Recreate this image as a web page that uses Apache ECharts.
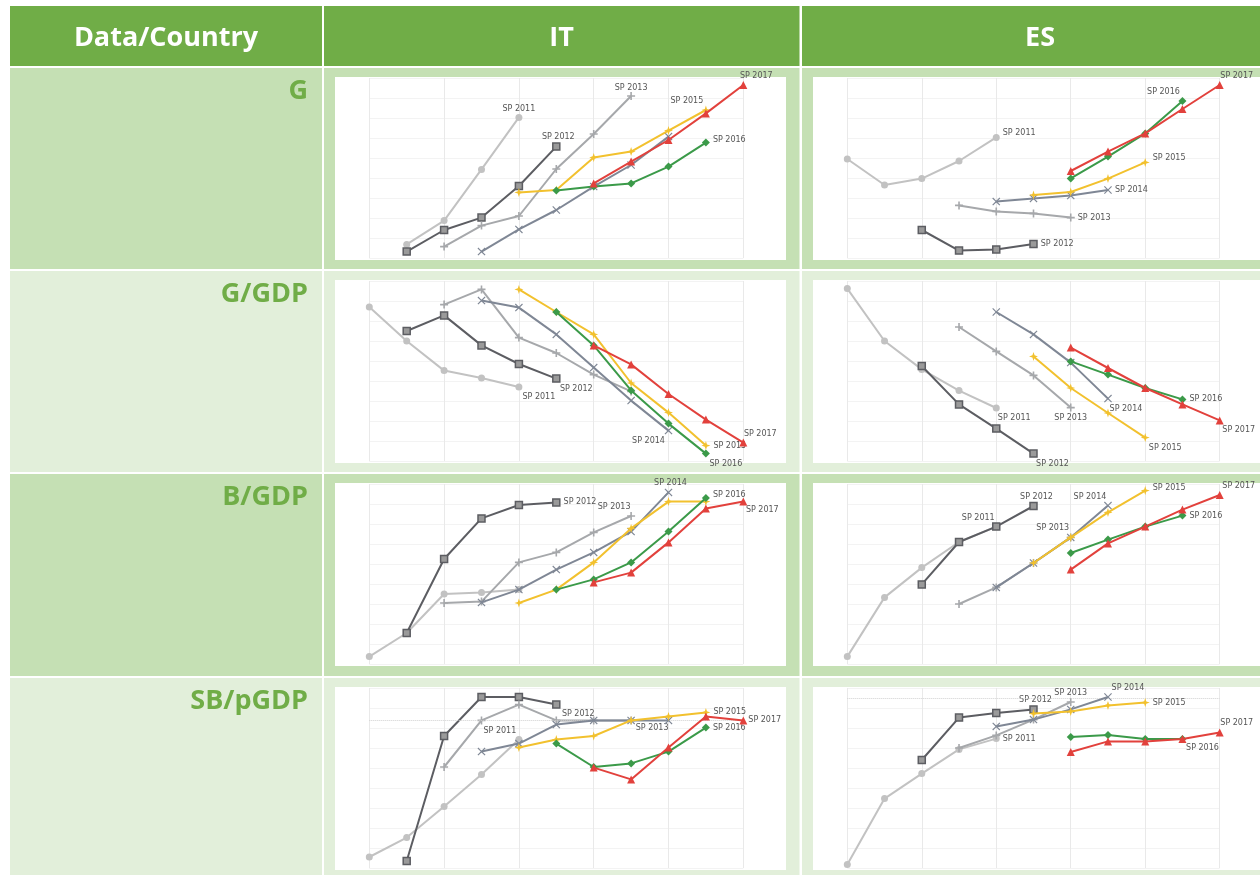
<!DOCTYPE html>
<html>
<head>
<meta charset="utf-8">
<script src="https://cdn.jsdelivr.net/npm/echarts@6/dist/echarts.min.js"></script>
<style>
  html, body { margin: 0; padding: 0; background: #ffffff; }
  #chart { width: 1260px; height: 875px; }
</style>
</head>
<body>
<div id="chart"></div>
<script>
// Forecast years on the horizontal axis
const years = [2010, 2011, 2012, 2013, 2014, 2015, 2016, 2017, 2018, 2019, 2020];
const programmes = ['SP 2011', 'SP 2012', 'SP 2013', 'SP 2014', 'SP 2015', 'SP 2016', 'SP 2017'];
const countries = ['IT', 'ES'];
const indicators = ['G', 'G/GDP', 'B/GDP', 'SB/pGDP'];
const cornerTitle = 'Data/Country';

// Each programme's path, one value per year (null = not covered), indexed 2010..2020
const itG = {
  'SP 2011': [null, 6.8, 18.7, 44.3, 70.3, null, null, null, null, null, null],
  'SP 2012': [null, 3.2, 14.0, 20.2, 36.0, 55.7, null, null, null, null, null],
  'SP 2013': [null, null, 5.7, 16.2, 21.0, 44.5, 62.0, 81.0, null, null, null],
  'SP 2014': [null, null, null, 3.2, 14.3, 24.0, 35.7, 46.5, 60.7, null, null],
  'SP 2015': [null, null, null, null, 32.8, 34.0, 50.3, 53.2, 63.7, 74.0, null],
  'SP 2016': [null, null, null, null, null, 33.7, 35.7, 37.3, 45.7, 57.7, null],
  'SP 2017': [null, null, null, null, null, null, 37.3, 48.2, 59.0, 72.3, 86.5]
};
const esG = {
  'SP 2011': [49.5, 36.5, 39.7, 48.5, 60.3, null, null, null, null, null, null],
  'SP 2012': [null, null, 14.0, 3.7, 4.3, 7.0, null, null, null, null, null],
  'SP 2013': [null, null, null, 26.3, 23.3, 22.3, 20.2, null, null, null, null],
  'SP 2014': [null, null, null, null, 28.2, 29.8, 31.2, 34.0, null, null, null],
  'SP 2015': [null, null, null, null, null, 31.5, 33.0, 39.7, 47.8, null, null],
  'SP 2016': [null, null, null, null, null, null, 39.8, 50.7, 62.3, 78.5, null],
  'SP 2017': [null, null, null, null, null, null, 43.5, 53.2, 62.3, 74.5, 86.5]
};
const itGGdp = {
  'SP 2011': [77.0, 60.0, 45.2, 41.5, 37.0, null, null, null, null, null, null],
  'SP 2012': [null, 65.0, 72.8, 57.8, 48.5, 41.2, null, null, null, null, null],
  'SP 2013': [null, null, 78.2, 85.8, 61.7, 54.0, 43.2, 34.8, null, null, null],
  'SP 2014': [null, null, null, 80.2, 76.7, 63.3, 46.7, 30.2, 15.2, null, null],
  'SP 2015': [null, null, null, null, 85.8, 74.5, 63.3, 39.0, 24.2, 7.7, null],
  'SP 2016': [null, null, null, null, null, 74.5, 57.8, 35.3, 18.7, 3.7, null],
  'SP 2017': [null, null, null, null, null, null, 57.8, 48.3, 33.5, 20.7, 9.2]
};
const esGGdp = {
  'SP 2011': [86.2, 60.0, 45.8, 35.2, 26.5, null, null, null, null, null, null],
  'SP 2012': [null, null, 47.5, 28.3, 16.2, 3.7, null, null, null, null, null],
  'SP 2013': [null, null, null, 67.0, 54.8, 42.8, 26.7, null, null, null, null],
  'SP 2014': [null, null, null, null, 74.5, 63.3, 49.2, 31.2, null, null, null],
  'SP 2015': [null, null, null, null, null, 52.3, 36.5, 24.0, 11.7, null, null],
  'SP 2016': [null, null, null, null, null, null, 49.8, 43.2, 36.5, 30.8, null],
  'SP 2017': [null, null, null, null, null, null, 56.7, 46.5, 36.5, 28.3, 20.3]
};
const itBGdp = {
  'SP 2011': [3.7, 15.5, 35.0, 35.7, 37.2, null, null, null, null, null, null],
  'SP 2012': [null, 15.5, 52.5, 72.8, 79.5, 80.8, null, null, null, null, null],
  'SP 2013': [null, null, 30.5, 31.2, 50.8, 55.8, 65.8, 74.0, null, null, null],
  'SP 2014': [null, null, null, 30.8, 37.2, 47.2, 55.8, 66.2, 85.8, null, null],
  'SP 2015': [null, null, null, null, 30.5, 37.2, 50.8, 67.8, 81.2, 81.2, null],
  'SP 2016': [null, null, null, null, null, 37.2, 42.3, 50.8, 66.2, 83.0, null],
  'SP 2017': [null, null, null, null, null, null, 40.8, 45.7, 60.8, 77.8, 81.2]
};
const esBGdp = {
  'SP 2011': [3.7, 33.3, 48.2, 61.0, 68.7, null, null, null, null, null, null],
  'SP 2012': [null, null, 39.8, 61.0, 68.7, 79.0, null, null, null, null, null],
  'SP 2013': [null, null, null, 30.0, 38.3, 50.5, 63.3, null, null, null, null],
  'SP 2014': [null, null, null, null, 38.3, 50.5, 63.3, 79.2, null, null, null],
  'SP 2015': [null, null, null, null, null, 50.5, 63.3, 75.8, 86.7, null, null],
  'SP 2016': [null, null, null, null, null, null, 55.5, 62.2, 68.7, 74.2, null],
  'SP 2017': [null, null, null, null, null, null, 47.2, 60.3, 68.7, 77.2, 84.5]
};
const itSbPGdp = {
  'SP 2011': [5.5, 15.2, 30.8, 46.7, 64.2, null, null, null, null, null, null],
  'SP 2012': [null, 3.5, 66.0, 85.5, 85.5, 81.8, null, null, null, null, null],
  'SP 2013': [null, null, 50.5, 73.8, 81.7, 73.8, 73.8, 73.8, null, null, null],
  'SP 2014': [null, null, null, 58.2, 62.2, 71.7, 73.8, 73.8, 73.8, null, null],
  'SP 2015': [null, null, null, null, 60.2, 64.2, 66.0, 73.8, 75.8, 77.8, null],
  'SP 2016': [null, null, null, null, null, 62.2, 50.5, 52.3, 58.2, 70.2, null],
  'SP 2017': [null, null, null, null, null, null, 50.2, 44.3, 60.2, 75.8, 73.8]
};
const esSbPGdp = {
  'SP 2011': [1.8, 34.7, 47.2, 59.3, 64.7, null, null, null, null, null, null],
  'SP 2012': [null, null, 54.0, 75.2, 77.5, 79.3, null, null, null, null, null],
  'SP 2013': [null, null, null, 60.0, 66.3, 74.2, 83.0, null, null, null, null],
  'SP 2014': [null, null, null, null, 70.8, 74.2, 79.3, 85.5, null, null, null],
  'SP 2015': [null, null, null, null, null, 77.2, 78.3, 81.3, 82.7, null, null],
  'SP 2016': [null, null, null, null, null, null, 65.5, 66.5, 64.5, 64.5, null],
  'SP 2017': [null, null, null, null, null, null, 58.0, 63.3, 63.3, 64.5, 67.8]
};
// Balance-neutral reference level in the structural balance panels (IT, ES)
const sbReference = [73.8, 84.7];

// Panels by indicator row, then by country column
const panels = [
  [itG, esG],
  [itGGdp, esGGdp],
  [itBGdp, esBGdp],
  [itSbPGdp, esSbPGdp]
];

// ---------- styling ----------
const seriesStyle = {
  'SP 2011': { color: '#c2c2c2', symbol: 'circle', size: 7 },
  'SP 2012': { color: '#5c5d62', symbol: 'rect', size: 7 },
  'SP 2013': { color: '#a6a8ab', symbol: 'path://M4,0h2v4h4v2h-4v4h-2v-4h-4v-2h4z', size: 8 },
  'SP 2014': { color: '#7f8795', symbol: 'path://M1,0L5,4L9,0L10,1L6,5L10,9L9,10L5,6L1,10L0,9L4,5L0,1Z', size: 8 },
  'SP 2015': { color: '#f2c12e', symbol: 'path://M5,0L6.2,3.8L10,5L6.2,6.2L5,10L3.8,6.2L0,5L3.8,3.8Z', size: 9 },
  'SP 2016': { color: '#3b9a49', symbol: 'diamond', size: 8 },
  'SP 2017': { color: '#e2413c', symbol: 'triangle', size: 8 }
};

// End-label placement per panel: [position, dx, dy], null = label hidden by other lines
const labelPlacement = [
  [
    [['top', 0, 2], ['top', 2, 2], ['top', 0, 3], null, ['top', -19, 2], ['right', 0, -3], ['top', 13, 2]],
    [['right', 0, -4], ['right', 0, 0], ['right', 0, 0], ['right', 0, 0], ['right', 0, -4], ['top', -19, 2], ['top', 17, 2]]
  ],
  [
    [['bottom', 20, -1], ['bottom', 20, -1], null, ['bottom', -20, -1], ['right', 0, 0], ['bottom', 20, -1], ['top', 17, 2]],
    [['bottom', 18, -1], ['bottom', 19, -1], ['bottom', 0, -1], ['bottom', 18, -1], ['bottom', 20, -1], ['right', 0, 0], ['bottom', 19, -1]]
  ],
  [
    [null, ['right', 0, 0], ['top', -17, 2], ['top', 2, 2], null, ['right', 0, -3], ['bottom', 19, -3]],
    [['top', -18, 2], ['top', 3, 2], ['top', -18, 2], ['top', -18, 2], ['right', 0, -3], ['right', 0, 0], ['top', 19, 2]]
  ],
  [
    [['top', -19, 2], ['bottom', 22, -2], ['bottom', 21, -3], null, ['right', 0, 0], ['right', 0, 0], ['right', -2, 0]],
    [['right', 0, 0], ['top', 2, 2], ['top', 0, 2], ['top', 20, 2], ['right', 0, 0], ['bottom', 20, -2], ['top', 17, 2]]
  ]
];

// ---------- table geometry ----------
const GREEN = '#70ad47';
const ROW_FILL = ['#c5e0b4', '#e2efda', '#c5e0b4', '#e2efda'];
const colX = [[10, 322], [324, 799.5], [802, 1262]];
const headerY = [6, 66];
const rowY = [[68, 269], [271, 472], [474, 676], [678, 877]];
const plotBox = [[335, 786], [813, 1262]];      // white chart area inside each cell
const axisSpan = [[369.3, 743.3], [847.3, 1219.7]]; // 2010..2020 positions

const chart = echarts.init(document.getElementById('chart'), null, { renderer: 'canvas' });

const graphic = [];
// header band
colX.forEach((c) => {
  graphic.push({ type: 'rect', z: -100, shape: { x: c[0], y: headerY[0], width: c[1] - c[0], height: headerY[1] - headerY[0] }, style: { fill: GREEN } });
});
const headerTexts = [cornerTitle].concat(countries);
const headerCenters = [166, 561.5, 1040];
headerTexts.forEach((t, i) => {
  graphic.push({
    type: 'text', z: -90, x: headerCenters[i], y: 38,
    style: { text: t, fill: '#ffffff', font: 'bold 27px "Open Sans", sans-serif', textAlign: 'center', textVerticalAlign: 'middle' }
  });
});
// body cells
rowY.forEach((r, ri) => {
  colX.forEach((c) => {
    graphic.push({ type: 'rect', z: -100, shape: { x: c[0], y: r[0], width: c[1] - c[0], height: r[1] - r[0] }, style: { fill: ROW_FILL[ri] } });
  });
  plotBox.forEach((p) => {
    graphic.push({ type: 'rect', z: -95, shape: { x: p[0], y: r[0] + 9, width: p[1] - p[0], height: 183 }, style: { fill: '#ffffff' } });
  });
  graphic.push({
    type: 'text', z: -90, x: 308, y: r[0] + 23,
    style: { text: indicators[ri], fill: GREEN, font: 'bold 27px "Open Sans", sans-serif', textAlign: 'right', textVerticalAlign: 'middle' }
  });
});

const grids = [], xAxes = [], yAxes = [], series = [];
panels.forEach((row, ri) => {
  row.forEach((panel, ci) => {
    const gi = grids.length;
    const top = rowY[ri][0] + 10;
    grids.push({ left: axisSpan[ci][0], width: axisSpan[ci][1] - axisSpan[ci][0], top: top, height: 180 });
    xAxes.push({
      gridIndex: gi, type: 'value', min: years[0], max: years[years.length - 1], interval: 2,
      axisLine: { show: false }, axisTick: { show: false }, axisLabel: { show: false },
      splitLine: { show: true, lineStyle: { color: '#e9e9e9', width: 1 } }
    });
    yAxes.push({
      gridIndex: gi, type: 'value', min: 0, max: 90, interval: 10,
      axisLine: { show: false }, axisTick: { show: false }, axisLabel: { show: false },
      splitLine: { show: true, lineStyle: { color: '#f3f3f3', width: 1 } }
    });
    programmes.forEach((name, pi) => {
      const st = seriesStyle[name];
      const vals = panel[name];
      let last = -1;
      vals.forEach((v, k) => { if (v !== null) last = k; });
      const place = labelPlacement[ri][ci][pi];
      const data = vals.map((v, k) => {
        if (v === null) return null;
        const item = { value: [years[k], v] };
        if (k === last && place) {
          item.label = {
            show: true, position: place[0], offset: [place[1], place[2]], distance: 3,
            formatter: name, color: '#555555', fontSize: 8, fontFamily: 'DejaVu Sans'
          };
        }
        return item;
      }).filter(d => d !== null);
      const s = {
        type: 'line', name: name, xAxisIndex: gi, yAxisIndex: gi, data: data,
        symbol: st.symbol, symbolSize: st.size, showSymbol: true,
        lineStyle: { color: st.color, width: 2 },
        itemStyle: st.symbol === 'rect'
          ? { color: '#9a9a9a', borderColor: st.color, borderWidth: 1.5 }
          : { color: st.color },
        label: { show: false },
        emphasis: { disabled: true },
        animation: false, z: 2 + pi
      };
      if (ri === 3 && pi === 0) {
        s.markLine = {
          silent: true, symbol: 'none', label: { show: false },
          lineStyle: { color: '#d0d0d0', type: 'dotted', width: 1 },
          data: [{ yAxis: sbReference[ci] }]
        };
      }
      series.push(s);
    });
  });
});

chart.setOption({
  backgroundColor: '#ffffff',
  animation: false,
  graphic: graphic,
  grid: grids,
  xAxis: xAxes,
  yAxis: yAxes,
  series: series
});
</script>
</body>
</html>
